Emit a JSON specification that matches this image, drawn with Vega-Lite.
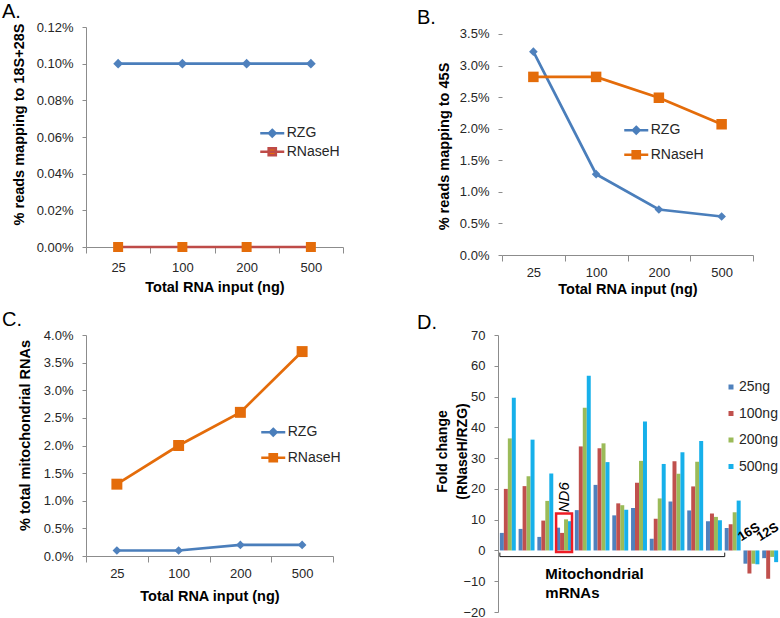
{
  "$schema": "https://vega.github.io/schema/vega-lite/v6.json",
  "padding": {"left": 2, "top": 2, "right": 0, "bottom": 0},
  "background": "white",
  "config": {
    "font": "Liberation Sans",
    "view": {"stroke": null},
    "axis": {"domainColor": "#8c8c8c", "tickColor": "#8c8c8c", "labelColor": "#262626", "labelFontSize": 13, "titleFontSize": 14.5, "titleFontWeight": "bold", "titleColor": "#000000", "grid": false},
    "axisY": {"tickSize": 4, "labelPadding": 9},
    "axisX": {"tickSize": 6, "labelAngle": 0},
    "legend": {"labelFontSize": 14, "labelColor": "#262626", "padding": 0},
    "title": {"fontSize": 20, "fontWeight": "normal", "anchor": "start", "frame": "group", "color": "#000000"}
  },
  "datasets": {
    "A": [
      {"input": "25", "series": "RZG", "pct": 0.001}, {"input": "100", "series": "RZG", "pct": 0.001},
      {"input": "200", "series": "RZG", "pct": 0.001}, {"input": "500", "series": "RZG", "pct": 0.001},
      {"input": "25", "series": "RNaseH", "pct": 0}, {"input": "100", "series": "RNaseH", "pct": 0},
      {"input": "200", "series": "RNaseH", "pct": 0}, {"input": "500", "series": "RNaseH", "pct": 0}
    ],
    "B": [
      {"input": "25", "series": "RZG", "pct": 0.0322}, {"input": "100", "series": "RZG", "pct": 0.0128},
      {"input": "200", "series": "RZG", "pct": 0.0072}, {"input": "500", "series": "RZG", "pct": 0.0061},
      {"input": "25", "series": "RNaseH", "pct": 0.0282}, {"input": "100", "series": "RNaseH", "pct": 0.0282},
      {"input": "200", "series": "RNaseH", "pct": 0.0249}, {"input": "500", "series": "RNaseH", "pct": 0.0207}
    ],
    "C": [
      {"input": "25", "series": "RZG", "pct": 0.001}, {"input": "100", "series": "RZG", "pct": 0.001},
      {"input": "200", "series": "RZG", "pct": 0.002}, {"input": "500", "series": "RZG", "pct": 0.002},
      {"input": "25", "series": "RNaseH", "pct": 0.013}, {"input": "100", "series": "RNaseH", "pct": 0.02},
      {"input": "200", "series": "RNaseH", "pct": 0.026}, {"input": "500", "series": "RNaseH", "pct": 0.037}
    ],
    "D": [
      {"gene": "m1", "input": "25ng", "fold": 5.7}, {"gene": "m1", "input": "100ng", "fold": 20.0}, {"gene": "m1", "input": "200ng", "fold": 36.4}, {"gene": "m1", "input": "500ng", "fold": 49.6},
      {"gene": "m2", "input": "25ng", "fold": 7.0}, {"gene": "m2", "input": "100ng", "fold": 20.9}, {"gene": "m2", "input": "200ng", "fold": 24.1}, {"gene": "m2", "input": "500ng", "fold": 36.0},
      {"gene": "m3", "input": "25ng", "fold": 4.4}, {"gene": "m3", "input": "100ng", "fold": 9.7}, {"gene": "m3", "input": "200ng", "fold": 16.1}, {"gene": "m3", "input": "500ng", "fold": 25.0},
      {"gene": "ND6", "input": "25ng", "fold": 7.4}, {"gene": "ND6", "input": "100ng", "fold": 5.7}, {"gene": "ND6", "input": "200ng", "fold": 10.1}, {"gene": "ND6", "input": "500ng", "fold": 9.5},
      {"gene": "m5", "input": "25ng", "fold": 13.1}, {"gene": "m5", "input": "100ng", "fold": 33.8}, {"gene": "m5", "input": "200ng", "fold": 46.4}, {"gene": "m5", "input": "500ng", "fold": 56.8},
      {"gene": "m6", "input": "25ng", "fold": 21.3}, {"gene": "m6", "input": "100ng", "fold": 33.2}, {"gene": "m6", "input": "200ng", "fold": 34.8}, {"gene": "m6", "input": "500ng", "fold": 28.7},
      {"gene": "m7", "input": "25ng", "fold": 11.4}, {"gene": "m7", "input": "100ng", "fold": 15.3}, {"gene": "m7", "input": "200ng", "fold": 14.7}, {"gene": "m7", "input": "500ng", "fold": 13.2},
      {"gene": "m8", "input": "25ng", "fold": 13.8}, {"gene": "m8", "input": "100ng", "fold": 22.0}, {"gene": "m8", "input": "200ng", "fold": 29.1}, {"gene": "m8", "input": "500ng", "fold": 41.9},
      {"gene": "m9", "input": "25ng", "fold": 3.8}, {"gene": "m9", "input": "100ng", "fold": 10.3}, {"gene": "m9", "input": "200ng", "fold": 16.9}, {"gene": "m9", "input": "500ng", "fold": 28.1},
      {"gene": "m10", "input": "25ng", "fold": 15.9}, {"gene": "m10", "input": "100ng", "fold": 29.0}, {"gene": "m10", "input": "200ng", "fold": 24.9}, {"gene": "m10", "input": "500ng", "fold": 31.9},
      {"gene": "m11", "input": "25ng", "fold": 13.0}, {"gene": "m11", "input": "100ng", "fold": 20.8}, {"gene": "m11", "input": "200ng", "fold": 28.8}, {"gene": "m11", "input": "500ng", "fold": 35.6},
      {"gene": "m12", "input": "25ng", "fold": 9.5}, {"gene": "m12", "input": "100ng", "fold": 12.0}, {"gene": "m12", "input": "200ng", "fold": 10.9}, {"gene": "m12", "input": "500ng", "fold": 9.8},
      {"gene": "m13", "input": "25ng", "fold": 7.3}, {"gene": "m13", "input": "100ng", "fold": 8.5}, {"gene": "m13", "input": "200ng", "fold": 12.4}, {"gene": "m13", "input": "500ng", "fold": 16.2},
      {"gene": "16S", "input": "25ng", "fold": -4.3}, {"gene": "16S", "input": "100ng", "fold": -7.5}, {"gene": "16S", "input": "200ng", "fold": -4.3}, {"gene": "16S", "input": "500ng", "fold": -4.5},
      {"gene": "12S", "input": "25ng", "fold": -2.5}, {"gene": "12S", "input": "100ng", "fold": -9.2}, {"gene": "12S", "input": "200ng", "fold": -2.1}, {"gene": "12S", "input": "500ng", "fold": -3.8}
    ],
    "bracket": [{"gene": "m1", "gene2": "m13", "fold": -2}],
    "bracketEnds": [{"gene": "m1", "fold": -2, "fold2": -0.7}, {"gene": "m13", "fold": -2, "fold2": -0.7}],
    "box": [{"gene": "ND6", "fold": -0.5, "fold2": 12}],
    "nd6": [{"gene": "ND6", "fold": 12.4, "label": "ND6"}],
    "rrna": [{"gene": "16S", "fold": 6.5, "label": "16S"}, {"gene": "12S", "fold": 6.5, "label": "12S"}],
    "group": [{"gene": "m3", "fold": -5.5, "label": "Mitochondrial\nmRNAs"}]
  },
  "spacing": 14,
  "resolve": {
    "scale": {"color": "independent", "stroke": "independent", "fill": "independent", "shape": "independent", "size": "independent"},
    "legend": {"color": "independent", "stroke": "independent", "fill": "independent", "shape": "independent", "size": "independent"}
  },
  "vconcat": [
    {
      "spacing": 73,
      "resolve": {
        "scale": {"color": "independent", "stroke": "independent", "fill": "independent", "shape": "independent", "size": "independent"},
        "legend": {"color": "independent", "stroke": "independent", "fill": "independent", "shape": "independent", "size": "independent"}
      },
      "hconcat": [
        {
          "width": 257, "height": 220,
          "title": {"text": "A.", "dx": -84, "offset": -1},
          "data": {"name": "A"},
          "encoding": {
            "x": {"field": "input", "type": "ordinal", "sort": ["25", "100", "200", "500"], "scale": {"type": "band", "paddingInner": 0, "paddingOuter": 0},
                  "axis": {"title": "Total RNA input (ng)", "tickBand": "extent", "labelPadding": 8, "titleY": 40, "titleBaseline": "middle"}},
            "y": {"field": "pct", "type": "quantitative", "scale": {"domain": [0, 0.0012], "nice": false},
                  "axis": {"values": [0, 0.0002, 0.0004, 0.0006, 0.0008, 0.001, 0.0012], "format": ".2%", "title": "% reads mapping to 18S+28S", "titleX": -66.5, "titleY": 97, "titleAngle": 270, "titleBaseline": "middle", "titleAlign": "center"}}
          },
          "layer": [
            {"mark": {"type": "line", "strokeWidth": 2.7},
             "encoding": {"stroke": {"field": "series", "type": "nominal", "scale": {"domain": ["RZG", "RNaseH"], "range": ["#4a7ebb", "#be4b48"]},
               "legend": {"orient": "none", "legendX": 178.75, "legendY": 98.75, "title": null, "symbolSize": 144, "symbolStrokeWidth": 2.5, "labelOffset": 7, "rowPadding": 0.5,
                 "encode": {"symbols": {"update": {
                   "shape": {"signal": "datum.value === 'RZG' ? 'M-2,0L2,0M0,-0.55L0.55,0L0,0.55L-0.55,0Z' : 'M-2,0L2,0M-0.6,-0.6L0.6,-0.6L0.6,0.6L-0.6,0.6Z'"},
                   "fill": {"signal": "datum.value === 'RZG' ? '#4f81bd' : '#e46c0a'"},
                   "fillOpacity": {"value": 1}, "opacity": {"value": 1}}}}}}}},
            {"transform": [{"filter": "datum.series === 'RZG'"}],
             "mark": {"type": "point", "shape": "diamond", "filled": true, "color": "#4f81bd", "size": 95, "opacity": 1}},
            {"transform": [{"filter": "datum.series === 'RNaseH'"}],
             "mark": {"type": "point", "shape": "square", "filled": true, "color": "#e46c0a", "size": 100, "opacity": 1}}
          ]
        },
        {
          "width": 251, "height": 228,
          "title": {"text": "B.", "dx": -85, "offset": -1},
          "data": {"name": "B"},
          "encoding": {
            "x": {"field": "input", "type": "ordinal", "sort": ["25", "100", "200", "500"], "scale": {"type": "band", "paddingInner": 0, "paddingOuter": 0},
                  "axis": {"title": "Total RNA input (ng)", "tickBand": "extent", "labelPadding": 5, "titleY": 34, "titleBaseline": "middle"}},
            "y": {"field": "pct", "type": "quantitative", "scale": {"domain": [0, 0.0361], "nice": false},
                  "axis": {"values": [0, 0.005, 0.01, 0.015, 0.02, 0.025, 0.03, 0.035], "format": ".1%", "domain": false, "title": "% reads mapping to 45S", "titleX": -58, "titleY": 119, "titleAngle": 270, "titleBaseline": "middle", "titleAlign": "center"}}
          },
          "layer": [
            {"data": {"values": [{"input": "25"}]},
             "mark": {"type": "rule", "color": "#8c8c8c", "strokeWidth": 1},
             "encoding": {
               "x": {"field": "input", "type": "ordinal", "bandPosition": 0},
               "y": {"datum": 0, "type": "quantitative"},
               "y2": {"datum": 0.035}}},
            {"mark": {"type": "line", "strokeWidth": 2.7},
             "encoding": {"stroke": {"field": "series", "type": "nominal", "scale": {"domain": ["RZG", "RNaseH"], "range": ["#4a7ebb", "#e46c0a"]},
               "legend": {"orient": "none", "legendX": 126.75, "legendY": 95.75, "title": null, "symbolSize": 144, "symbolStrokeWidth": 2.5, "labelOffset": 7, "rowPadding": 6.5,
                 "encode": {"symbols": {"update": {
                   "shape": {"signal": "datum.value === 'RZG' ? 'M-2,0L2,0M0,-0.55L0.55,0L0,0.55L-0.55,0Z' : 'M-2,0L2,0M-0.6,-0.6L0.6,-0.6L0.6,0.6L-0.6,0.6Z'"},
                   "fill": {"signal": "datum.value === 'RZG' ? '#4f81bd' : '#e46c0a'"},
                   "fillOpacity": {"value": 1}, "opacity": {"value": 1}}}}}}}},
            {"transform": [{"filter": "datum.series === 'RZG'"}],
             "mark": {"type": "point", "shape": "diamond", "filled": true, "color": "#4f81bd", "size": 75, "opacity": 1}},
            {"transform": [{"filter": "datum.series === 'RNaseH'"}],
             "mark": {"type": "point", "shape": "square", "filled": true, "color": "#e46c0a", "size": 110, "opacity": 1}}
          ]
        }
      ]
    },
    {
      "spacing": 76,
      "resolve": {
        "scale": {"color": "independent", "stroke": "independent", "fill": "independent", "shape": "independent", "size": "independent"},
        "legend": {"color": "independent", "stroke": "independent", "fill": "independent", "shape": "independent", "size": "independent"}
      },
      "hconcat": [
        {
          "width": 247, "height": 221,
          "title": {"text": "C.", "dx": -84, "offset": -1},
          "data": {"name": "C"},
          "encoding": {
            "x": {"field": "input", "type": "ordinal", "sort": ["25", "100", "200", "500"], "scale": {"type": "band", "paddingInner": 0, "paddingOuter": 0},
                  "axis": {"title": "Total RNA input (ng)", "tickBand": "extent", "labelPadding": 5, "titleY": 40, "titleBaseline": "middle"}},
            "y": {"field": "pct", "type": "quantitative", "scale": {"domain": [0, 0.04], "nice": false},
                  "axis": {"values": [0, 0.005, 0.01, 0.015, 0.02, 0.025, 0.03, 0.035, 0.04], "format": ".1%", "title": "% total mitochondrial RNAs", "titleX": -61, "titleY": 100, "titleAngle": 270, "titleBaseline": "middle", "titleAlign": "center"}}
          },
          "layer": [
            {"mark": {"type": "line", "strokeWidth": 2.7},
             "encoding": {"stroke": {"field": "series", "type": "nominal", "scale": {"domain": ["RZG", "RNaseH"], "range": ["#4a7ebb", "#e46c0a"]},
               "legend": {"orient": "none", "legendX": 179.75, "legendY": 89.75, "title": null, "symbolSize": 144, "symbolStrokeWidth": 2.5, "labelOffset": 7, "rowPadding": 7.5,
                 "encode": {"symbols": {"update": {
                   "shape": {"signal": "datum.value === 'RZG' ? 'M-2,0L2,0M0,-0.55L0.55,0L0,0.55L-0.55,0Z' : 'M-2,0L2,0M-0.6,-0.6L0.6,-0.6L0.6,0.6L-0.6,0.6Z'"},
                   "fill": {"signal": "datum.value === 'RZG' ? '#4f81bd' : '#e46c0a'"},
                   "fillOpacity": {"value": 1}, "opacity": {"value": 1}}}}}}}},
            {"transform": [{"filter": "datum.series === 'RZG'"}],
             "mark": {"type": "point", "shape": "diamond", "filled": true, "color": "#4f81bd", "size": 75, "opacity": 1}},
            {"transform": [{"filter": "datum.series === 'RNaseH'"}],
             "mark": {"type": "point", "shape": "square", "filled": true, "color": "#e46c0a", "size": 120, "opacity": 1}}
          ]
        },
        {
          "width": 282, "height": 277,
          "title": {"text": "D.", "dx": -81, "offset": -4},
          "encoding": {
            "x": {"field": "gene", "type": "nominal", "scale": {"domain": ["m1", "m2", "m3", "ND6", "m5", "m6", "m7", "m8", "m9", "m10", "m11", "m12", "m13", "16S", "12S"], "paddingInner": 0.15, "paddingOuter": 0.1}, "axis": null},
            "y": {"field": "fold", "type": "quantitative", "stack": null, "scale": {"domain": [-20, 70], "nice": false, "zero": false},
                  "axis": {"values": [-20, -10, 0, 10, 20, 30, 40, 50, 60, 70], "title": ["Fold change", "(RNaseH/RZG)"], "titleFontSize": 14, "titleLineHeight": 20, "titleX": -56, "titleY": 116, "titleAngle": 270, "titleBaseline": "middle", "titleAlign": "center"}}
          },
          "layer": [
            {
              "data": {"name": "D"},
              "mark": {"type": "bar"},
              "encoding": {
                "xOffset": {"field": "input", "type": "nominal", "scale": {"domain": ["25ng", "100ng", "200ng", "500ng"], "paddingInner": 0, "paddingOuter": 0}},
                "color": {"field": "input", "type": "nominal", "scale": {"domain": ["25ng", "100ng", "200ng", "500ng"], "range": ["#4f81bd", "#c0504d", "#9bbb59", "#17b0ea"]},
                          "legend": {"orient": "none", "legendX": 226, "legendY": 45, "title": null, "symbolType": "square", "symbolSize": 25, "symbolStrokeWidth": 0, "labelOffset": 1, "rowPadding": 12.5, "symbolOpacity": 1}}
              }
            },
            {
              "data": {"name": "bracket"},
              "mark": {"type": "rule", "color": "#1a1a1a", "strokeWidth": 1},
              "encoding": {
                "x": {"field": "gene", "type": "nominal", "bandPosition": 0},
                "x2": {"field": "gene2", "bandPosition": 0}
              }
            },
            {
              "data": {"name": "bracketEnds"},
              "mark": {"type": "rule", "color": "#1a1a1a", "strokeWidth": 1},
              "encoding": {
                "x": {"field": "gene", "type": "nominal", "bandPosition": 0},
                "y2": {"field": "fold2"}
              }
            },
            {
              "data": {"name": "box"},
              "mark": {"type": "rect", "filled": false, "stroke": "#ee1c25", "strokeWidth": 2.5},
              "encoding": {"y2": {"field": "fold2"}}
            },
            {
              "data": {"name": "nd6"},
              "mark": {"type": "text", "angle": 270, "align": "left", "baseline": "middle", "fontSize": 15, "fontStyle": "italic", "color": "#000000"},
              "encoding": {"text": {"field": "label"}}
            },
            {
              "data": {"name": "rrna"},
              "mark": {"type": "text", "angle": 328, "align": "center", "baseline": "middle", "fontSize": 13, "fontWeight": "bold", "color": "#000000", "dx": -3},
              "encoding": {"text": {"field": "label"}}
            },
            {
              "data": {"name": "group"},
              "mark": {"type": "text", "align": "left", "baseline": "top", "fontSize": 15, "fontWeight": "bold", "color": "#000000", "lineBreak": "\n", "lineHeight": 19},
              "encoding": {"text": {"field": "label"}}
            }
          ]
        }
      ]
    }
  ]
}
